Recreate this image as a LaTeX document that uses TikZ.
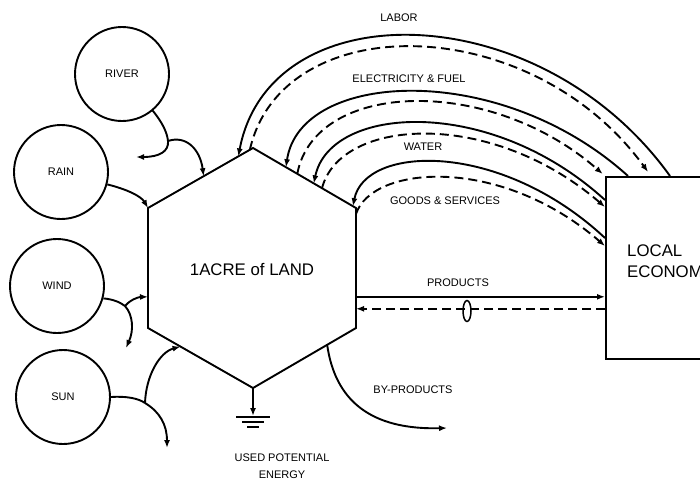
\documentclass[tikz,border=0pt]{standalone}
\usepackage{fontspec}
\setmainfont{Liberation Sans}
\usetikzlibrary{arrows.meta,calc,shapes.geometric}

\tikzset{
  flow/.style={line width=1.9pt,-{Latex[length=8pt,width=6pt]}},
  money/.style={flow,dash pattern=on 9pt off 5pt},
  source/.style={draw,circle,line width=1.9pt,minimum size=94pt,inner sep=0pt,font=\fontsize{11}{13}\selectfont},
  lbl/.style={font=\fontsize{11}{17}\selectfont,inner sep=0pt},
  biglbl/.style={font=\fontsize{16.8}{21}\selectfont,inner sep=0pt}
}

\begin{document}
\begin{tikzpicture}[x=1pt,y=-1pt]
\useasboundingbox (0,0) rectangle (700,483);
\clip (0,0) rectangle (700,483);

% energy sources
\node[source] (river) at (122,74) {RIVER};
\node[source] (rain) at (61,172) {RAIN};
\node[source] (wind) at (57,286) {WIND};
\node[source] (sun) at (63,397) {SUN};

% the acre of land
\coordinate (hT) at (253,148);
\coordinate (hUR) at (356,208);
\coordinate (hLR) at (356,328);
\coordinate (hB) at (253,388);
\coordinate (hLL) at (148,328);
\coordinate (hUL) at (148,208);
\draw[line width=1.9pt] (hT) -- (hUR) -- (hLR) -- (hB) -- (hLL) -- (hUL) -- cycle;
\node[biglbl] (land) at (252,269) {1ACRE of LAND};

% local economy
\node[draw,line width=1.9pt,anchor=north west,minimum width=130pt,minimum height=182pt] (econ) at (605,176) {};
\node[biglbl,anchor=west,align=left] (econtext) at (627,261) {LOCAL\\ECONOMY};

% inflows from the sources
\coordinate (rsplit) at (168,141);
\draw[line width=1.9pt] (river.-50) .. controls (161,121) and (167,131) .. (rsplit);
\draw[flow] (rsplit) .. controls (186,135) and (200,149) .. ($(hUL)!0.53!(hT)$);
\draw[flow] (rsplit) .. controls (169,151) and (160,157) .. (136,157);

\draw[flow] (rain.-15) .. controls (126,189) and (141,196) .. (hUL);

\coordinate (wsplit) at (125,306);
\draw[line width=1.9pt] (wind.-15) .. controls (112,299) and (120,302) .. (wsplit);
\draw[flow] (wsplit) .. controls (130,300) and (138,297) .. ($(hUL)!0.74!(hLL)$);
\draw[flow] (wsplit) .. controls (133,315) and (134,330) .. (126,348);

\coordinate (ssplit) at (145,403);
\draw[line width=1.9pt] (sun.east) .. controls (125,396) and (138,398) .. (ssplit);
\draw[flow] (ssplit) .. controls (146,375) and (160,352) .. ($(hLL)!0.31!(hB)$);
\draw[flow] (ssplit) .. controls (160,412) and (167,425) .. (167,448);

% purchased inputs and the money paid for them
\draw[flow] ($(econ.north west)+(65,0)$) .. controls (540,-5) and (270,-10) .. ($(hUL)!0.86!(hT)$);
\draw[money,shorten >=5pt] ($(hUL)!0.97!(hT)$) .. controls (282,8) and (530,10) .. ($(econ.north west)+(46,0)$);
\node[lbl] (labor) at (399,18) {LABOR};

\draw[flow] ($(econ.north west)+(23,0)$) .. controls (500,60) and (300,70) .. ($(hT)!0.32!(hUR)$);
\draw[money,shorten >=3pt] ($(hT)!0.43!(hUR)$) .. controls (315,80) and (490,75) .. (econ.north west);
\node[lbl] (fuel) at (409,79) {ELECTRICITY \& FUEL};

\draw[flow] ($(econ.north west)+(0,24)$) .. controls (490,95) and (330,105) .. ($(hT)!0.59!(hUR)$);
\draw[money] ($(hT)!0.67!(hUR)$) .. controls (340,118) and (490,108) .. ($(econ.north west)+(0,31)$);
\node[lbl] (water) at (423,147) {WATER};

\draw[flow] ($(econ.north west)+(0,62)$) .. controls (500,140) and (365,145) .. ($(hT)!0.97!(hUR)$);
\draw[money] ($(hUR)!0.05!(hLR)$) .. controls (372,165) and (500,155) .. ($(econ.north west)+(0,70)$);
\node[lbl] (goods) at (445,201) {GOODS \& SERVICES};

% products sold
\coordinate (pout) at ($(hUR)!0.74!(hLR)$);
\coordinate (pin) at ($(hUR)!0.84!(hLR)$);
\draw[flow] (pout) -- (pout -| econ.west);
\draw[money] (pin -| econ.west) -- (pin);
\node[lbl] (products) at (458,283) {PRODUCTS};
\node[draw,ellipse,line width=1.5pt,minimum width=8pt,minimum height=21pt,inner sep=0pt] (coin) at (467,311) {};

% by-products
\draw[flow] ($(hB)!0.72!(hLR)$) .. controls (335,400) and (370,430) .. (447,428);
\node[lbl] (byprod) at (413,390) {BY-PRODUCTS};

% heat sink
\coordinate (gnd) at (253,416);
\draw[flow] (hB) -- (gnd);
\draw[line width=1.9pt] ($(gnd)+(-17,1)$) -- ($(gnd)+(17,1)$);
\draw[line width=1.9pt] ($(gnd)+(-11,6)$) -- ($(gnd)+(11,6)$);
\draw[line width=1.9pt] ($(gnd)+(-6,11)$) -- ($(gnd)+(6,11)$);
\node[lbl,align=center] (used) at (282,466) {USED POTENTIAL\\ENERGY};
\end{tikzpicture}
\end{document}
